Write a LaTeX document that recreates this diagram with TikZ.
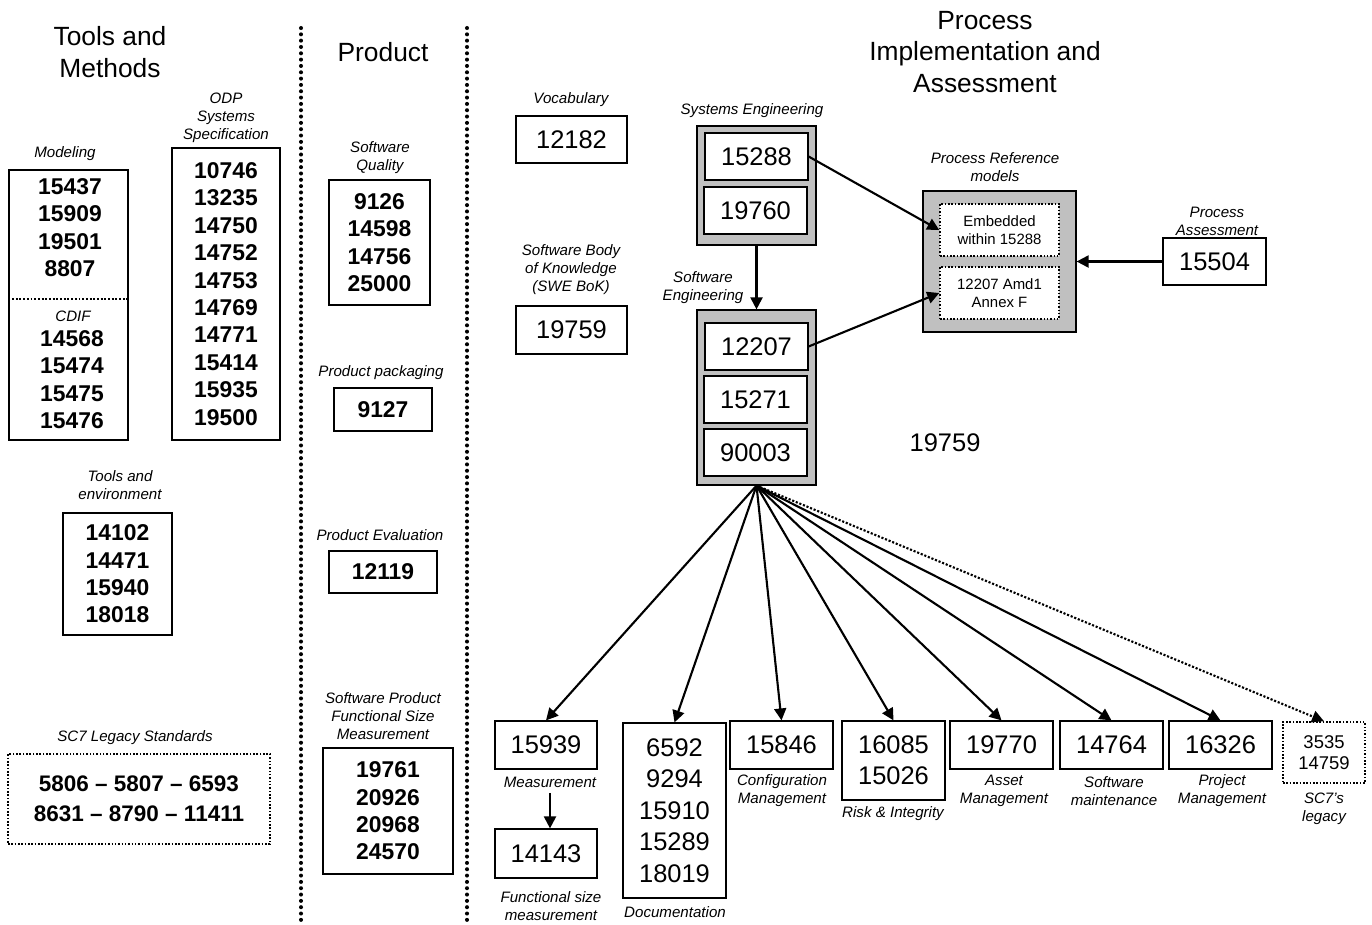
\documentclass[tikz,border=0pt]{standalone}
\usepackage{fontspec}
\setmainfont{Liberation Sans}
\usetikzlibrary{arrows.meta}
\definecolor{panelgray}{HTML}{C0C0C0}

\begin{document}
\begin{tikzpicture}[x=0.02cm,y=-0.02cm,>={Triangle[length=6.8pt,width=6.8pt]},
  every node/.style={inner sep=0pt},
  colhead/.style={font=\fontsize{15}{18}\selectfont,align=center},
  lbl/.style={font=\fontsize{8.6}{10.2}\selectfont\itshape,align=center},
  bnum/.style={font=\fontsize{13}{15.6}\selectfont\bfseries,align=center},
  num/.style={font=\fontsize{14.5}{18}\selectfont,align=center},
  box/.style={draw,line width=0.7pt},
  dotbox/.style={draw,densely dotted,line width=0.9pt},
  panel/.style={draw,fill=panelgray,line width=0.7pt},
  divider/.style={line width=2.3pt,dash pattern=on 0pt off 3.6pt,line cap=round},
  link/.style={->,line width=1.2pt}]
  \useasboundingbox (0,0) rectangle (1372,924);

  % column dividers and headings
  \draw[divider] (301,28) -- (301,924);
  \draw[divider] (467,28) -- (467,924);
  \node[colhead] (hdtools) at (110,52) {Tools and\\Methods};
  \node[colhead] (hdprod) at (383,52) {Product};
  \node[colhead] (hdproc) at (985,52) {Process\\Implementation and\\Assessment};

  % tools and methods
  \node[lbl] (lmodel) at (65,154) {Modeling};
  \node[box,minimum width=2.38cm,minimum height=5.4cm] (model) at (68.5,305) {};
  \draw[densely dotted,line width=1.1pt] (model.west |- 0,299) -- (model.east |- 0,299);
  \node[bnum] (modnums) at (70,227.5) {15437\\15909\\19501\\8807};
  \node[lbl] (lcdif) at (73,316) {CDIF};
  \node[bnum] (cdifnums) at (72,379.5) {14568\\15474\\15475\\15476};

  \node[lbl] (lodp) at (226,118) {ODP\\Systems\\Specification};
  \node[box,bnum,minimum width=2.16cm,minimum height=5.84cm] (odp) at (226,294)
    {10746\\13235\\14750\\14752\\14753\\14769\\14771\\15414\\15935\\19500};

  \node[lbl] (lenv) at (120,485) {Tools and\\environment};
  \node[box,bnum,minimum width=2.18cm,minimum height=2.44cm] (env) at (117.5,574)
    {14102\\14471\\15940\\18018};

  \node[lbl] (llegacy) at (135,738) {SC7 Legacy Standards};
  \node[dotbox,bnum,font=\fontsize{12.8}{17}\selectfont\bfseries,minimum width=5.24cm,minimum height=1.8cm] (legacy) at (139,799)
    {5806 -- 5807 -- 6593\\8631 -- 8790 -- 11411};

  % product
  \node[lbl] (lqual) at (380,158) {Software\\Quality};
  \node[box,bnum,minimum width=2.02cm,minimum height=2.5cm] (qual) at (379.5,242.5)
    {9126\\14598\\14756\\25000};
  \node[lbl] (lpack) at (381,373) {Product packaging};
  \node[box,bnum,minimum width=1.96cm,minimum height=0.86cm] (pack) at (383,409.5) {9127};
  \node[lbl] (leval) at (380,535) {Product Evaluation};
  \node[box,bnum,minimum width=2.16cm,minimum height=0.84cm] (eval) at (383,572) {12119};
  \node[lbl] (lfsm) at (383,716) {Software Product\\Functional Size\\Measurement};
  \node[box,bnum,minimum width=2.6cm,minimum height=2.52cm] (fsm) at (388,811)
    {19761\\20926\\20968\\24570};

  % process implementation and assessment
  \node[lbl] (lvoc) at (571,100) {Vocabulary};
  \node[box,num,minimum width=2.22cm,minimum height=0.94cm] (voc) at (571.5,139.5) {12182};
  \node[lbl] (lbok) at (571,270) {Software Body\\of Knowledge\\(SWE BoK)};
  \node[box,num,minimum width=2.22cm,minimum height=0.96cm] (bok) at (571.5,330) {19759};

  \node[lbl] (lsys) at (752,111) {Systems Engineering};
  \node[panel,minimum width=2.38cm,minimum height=2.38cm] (sys) at (756.5,185.5) {};
  \node[box,num,fill=white,minimum width=2.06cm,minimum height=0.94cm] (s15288) at (756.5,156.5) {15288};
  \node[box,num,fill=white,minimum width=2.06cm,minimum height=0.94cm] (s19760) at (755.5,210.5) {19760};

  \node[lbl] (lswe) at (703,288) {Software\\Engineering};
  \node[panel,minimum width=2.38cm,minimum height=3.5cm] (swe) at (756.5,397.5) {};
  \node[box,num,fill=white,minimum width=2.06cm,minimum height=0.94cm] (s12207) at (756.5,346.5) {12207};
  \node[box,num,fill=white,minimum width=2.06cm,minimum height=0.94cm] (s15271) at (755.5,399.5) {15271};
  \node[box,num,fill=white,minimum width=2.06cm,minimum height=0.94cm] (s90003) at (755.5,452.5) {90003};

  \node[lbl] (lprm) at (995,167) {Process Reference\\models};
  \node[panel,minimum width=3.06cm,minimum height=2.82cm] (prm) at (999.5,261.5) {};
  \node[dotbox,fill=white,align=center,font=\fontsize{8.5}{10.2}\selectfont,minimum width=2.38cm,minimum height=1.04cm] (emb) at (999.5,230) {Embedded\\within 15288};
  \node[dotbox,fill=white,align=center,font=\fontsize{8.5}{10.2}\selectfont,minimum width=2.38cm,minimum height=1.04cm] (amd) at (999.5,293) {12207 Amd1\\Annex F};

  \node[lbl] (lpa) at (1217,221) {Process\\Assessment};
  \node[box,num,minimum width=2.06cm,minimum height=0.94cm] (pa) at (1214.5,261.5) {15504};
  \node[num] (loose) at (945,443) {19759};

  \draw[link] (sys.south) -- (swe.north);
  \draw[link] (s15288.east) -- (emb.west);
  \draw[link] (s12207.east) -- (amd.west);
  \draw[link] (pa.west) -- (prm.east);

  % process areas
  \node[box,num,minimum width=2.04cm,minimum height=0.96cm] (m15939) at (546,745) {15939};
  \node[lbl] (lmeas) at (550,782) {Measurement};
  \node[box,num,minimum width=2.04cm,minimum height=0.98cm] (m14143) at (546,853.5) {14143};
  \node[lbl] (lfun) at (551,906) {Functional size\\measurement};
  \node[box,num,minimum width=2.06cm,minimum height=3.5cm] (doc) at (674.5,810.5)
    {6592\\9294\\15910\\15289\\18019};
  \node[lbl] (ldoc) at (675,912) {Documentation};
  \node[box,num,minimum width=2.06cm,minimum height=0.96cm] (m15846) at (781.5,745) {15846};
  \node[lbl] (lconf) at (782,791) {Configuration\\Management};
  \node[box,num,font=\fontsize{14.5}{17.6}\selectfont,minimum width=2.06cm,minimum height=1.58cm] (risk) at (893.5,760.5) {16085\\15026};
  \node[lbl] (lrisk) at (893,814) {Risk \& Integrity};
  \node[box,num,minimum width=2.06cm,minimum height=0.96cm] (m19770) at (1001.5,745) {19770};
  \node[lbl] (lasset) at (1004,791) {Asset\\Management};
  \node[box,num,minimum width=2.06cm,minimum height=0.96cm] (m14764) at (1111.5,745) {14764};
  \node[lbl] (lmaint) at (1114,791) {Software\\maintenance};
  \node[box,num,minimum width=2.06cm,minimum height=0.96cm] (m16326) at (1220.5,745) {16326};
  \node[lbl] (lproj) at (1222,791) {Project\\Management};
  \node[dotbox,align=center,font=\fontsize{10.5}{12}\selectfont,minimum width=1.64cm,minimum height=1.22cm] (sc7) at (1324,752.5) {3535\\14759};
  \node[lbl] (lsc7) at (1324,809) {SC7's\\legacy};

  \coordinate (fan) at (swe.south);
  \foreach \t in {m15939,doc,m15846,risk,m19770,m14764,m16326}
    \draw[link] (fan) -- (\t.north);
  \draw[link,densely dotted] (fan) -- (sc7.north);
  \draw[link] ([yshift=-3pt]lmeas.south) -- (lmeas.south |- m14143.north);
\end{tikzpicture}
\end{document}
